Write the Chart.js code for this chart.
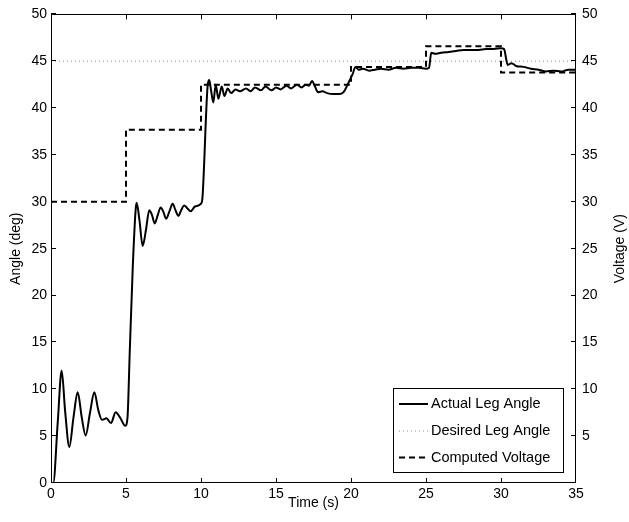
<!DOCTYPE html>
<html>
<head>
<meta charset="utf-8">
<script src="https://cdn.jsdelivr.net/npm/chart.js@4.4.1/dist/chart.umd.min.js"></script>
<style>
  html,body{margin:0;padding:0;background:#fff;}
  #c{display:block;}
</style>
</head>
<body>
<canvas id="c" width="629" height="522"></canvas>
<script>
// ---- data ----
const actualT = [0,0.15,0.45,0.71,0.95,1.22,1.5,1.78,2.05,2.31,2.6,2.89,3.15,3.4,3.7,4.0,4.31,4.6,4.95,
  5.1,5.25,5.45,5.65,5.71,5.9,6.11,6.33,6.55,6.73,6.91,7.1,7.31,7.5,7.67,7.9,8.11,8.3,8.49,8.68,8.87,9.1,9.31,9.6,10.0,
  10.1,10.45,10.55,10.68,10.82,10.98,11.16,11.38,11.56,11.78,12.0,12.3,12.6,13.0,13.3,13.6,14.0,14.3,14.7,15.0,15.3,15.7,16.0,16.4,16.7,17.0,17.2,17.4,17.6,17.8,18.1,18.4,18.8,19.2,19.5,
  19.8,20.1,20.3,20.5,20.8,21.2,21.6,22.0,22.5,23.0,23.5,24.0,24.5,25.0,25.2,25.35,25.6,26.0,26.5,27.0,27.5,28.0,28.5,29.0,29.5,30.0,30.2,
  30.45,30.7,31.0,31.5,32.0,32.5,33.0,33.5,34.0,34.5,35.0];
const actualV = [0,0,6.5,12.0,7.5,3.85,7.0,9.67,7.0,5.08,7.5,9.67,7.8,6.75,6.9,6.4,7.55,7.0,6.1,
  7.0,14.0,23.0,29.3,29.9,28.0,25.3,27.0,29.1,28.6,27.7,28.5,29.4,28.9,28.2,29.0,29.8,29.1,28.5,29.1,29.6,29.3,29.0,29.5,29.8,
  30.5,42.5,43.0,41.8,40.6,42.5,41.0,42.3,41.3,42.1,41.6,42.0,41.8,42.1,41.8,42.2,41.9,42.3,41.9,42.2,42.0,42.4,42.1,42.5,42.2,42.5,42.4,42.9,42.3,41.7,41.8,41.6,41.5,41.5,41.7,
  42.6,43.6,44.4,44.1,44.2,44.0,44.1,44.2,44.1,44.3,44.2,44.3,44.3,44.2,44.3,45.9,45.8,45.9,46.0,46.1,46.2,46.2,46.2,46.3,46.3,46.4,46.3,
  44.6,44.8,44.5,44.4,44.2,44.1,43.9,44.0,43.9,44.1,44.1];
const desiredT = [0, 35];
const desiredV = [45, 45];
const voltageT = [0, 5, 10, 20, 25, 30, 35];
const voltageV = [30, 37.7, 42.5, 44.4, 46.6, 43.8, 43.8];
const xTicks = [0,5,10,15,20,25,30,35];
const yTicks = [0,5,10,15,20,25,30,35,40,45,50];
const seriesLabels = ['Actual Leg Angle', 'Desired Leg Angle', 'Computed Voltage'];
const xTitle = 'Time (s)';
const yTitle = 'Angle (deg)';
const y2Title = 'Voltage (V)';

const pts = (t, v) => t.map((x, i) => ({x: x, y: v[i]}));
const FONT = 'Liberation Sans, Arial, Helvetica, sans-serif';

const boxAndTicks = {
  id: 'boxAndTicks',
  afterDatasetsDraw(chart) {
    const {ctx, chartArea: a, scales} = chart;
    ctx.save();
    ctx.strokeStyle = '#000';
    ctx.lineWidth = 1;
    ctx.setLineDash([]);
    ctx.strokeRect(Math.round(a.left) + 0.5, Math.round(a.top) + 0.5,
      Math.round(a.right - a.left) - 1, Math.round(a.bottom - a.top) - 1);
    const L = 5;
    ctx.beginPath();
    scales.x.ticks.forEach(t => {
      const px = Math.min(Math.round(scales.x.getPixelForValue(t.value)), Math.round(a.right) - 1) + 0.5;
      ctx.moveTo(px, a.bottom); ctx.lineTo(px, a.bottom - L);
      ctx.moveTo(px, a.top); ctx.lineTo(px, a.top + L);
    });
    scales.y.ticks.forEach(t => {
      const py = Math.round(scales.y.getPixelForValue(t.value)) - 0.5;
      ctx.moveTo(a.left, py); ctx.lineTo(a.left + L, py);
    });
    scales.y2.ticks.forEach(t => {
      const py = Math.round(scales.y2.getPixelForValue(t.value)) - 0.5;
      ctx.moveTo(a.right, py); ctx.lineTo(a.right - L, py);
    });
    ctx.stroke();
    // right axis title, reading bottom-to-top like the left one
    ctx.fillStyle = '#000';
    ctx.font = '14px ' + FONT;
    ctx.textAlign = 'center';
    ctx.textBaseline = 'middle';
    ctx.translate(620, (a.top + a.bottom) / 2);
    ctx.rotate(-Math.PI / 2);
    ctx.fillText(y2Title, 0, 0);
    ctx.restore();
  }
};

const boxLegend = {
  id: 'boxLegend',
  afterDraw(chart) {
    const {ctx} = chart;
    const bx = 393.5, by = 388.5, bw = 170, bh = 84;
    ctx.save();
    ctx.fillStyle = '#fff';
    ctx.fillRect(bx, by, bw, bh);
    ctx.strokeStyle = '#000';
    ctx.lineWidth = 1;
    ctx.setLineDash([]);
    ctx.strokeRect(bx, by, bw, bh);
    const rows = [404, 431, 457.5];
    chart.data.datasets.forEach((ds, i) => {
      const y = rows[i];
      ctx.beginPath();
      ctx.strokeStyle = ds.borderColor;
      ctx.lineWidth = ds.borderWidth;
      ctx.setLineDash(ds.borderDash || []);
      ctx.moveTo(399, y); ctx.lineTo(428, y);
      ctx.stroke();
      ctx.setLineDash([]);
      ctx.fillStyle = '#000';
      ctx.font = '14.5px ' + FONT;
      ctx.textBaseline = 'middle';
      ctx.textAlign = 'left';
      ctx.fillText(ds.label, 431, y);
    });
    ctx.restore();
  }
};

new Chart(document.getElementById('c'), {
  type: 'line',
  data: {
    datasets: [
      {label: seriesLabels[0], data: pts(actualT, actualV), borderColor: '#000', borderWidth: 2,
        pointRadius: 0, cubicInterpolationMode: 'monotone', yAxisID: 'y', order: 0},
      {label: seriesLabels[1], data: pts(desiredT, desiredV), borderColor: '#8c8c8c', borderWidth: 1,
        borderDash: [1, 3], pointRadius: 0, yAxisID: 'y', order: 2},
      {label: seriesLabels[2], data: pts(voltageT, voltageV), borderColor: '#000', borderWidth: 2,
        borderDash: [6, 4], pointRadius: 0, stepped: true, yAxisID: 'y2', order: 1}
    ]
  },
  options: {
    responsive: false,
    animation: false,
    layout: {padding: {top: 11, left: 0, right: 0, bottom: 0}},
    plugins: {legend: {display: false}, tooltip: {enabled: false}},
    scales: {
      x: {
        type: 'linear', min: 0, max: 35,
        afterBuildTicks: s => { s.ticks = xTicks.map(v => ({value: v})); },
        afterFit: s => { s.height = 39; },
        grid: {display: false, drawTicks: false}, border: {display: false},
        ticks: {color: '#000', padding: 3, font: {family: FONT, size: 14}, maxRotation: 0},
        title: {display: true, text: xTitle, color: '#000', font: {family: FONT, size: 14}, padding: {top: 0, bottom: 10}}
      },
      y: {
        type: 'linear', position: 'left', min: 0, max: 50,
        afterBuildTicks: s => { s.ticks = yTicks.map(v => ({value: v})); },
        afterFit: s => { s.width = 51; },
        grid: {display: false, drawTicks: false}, border: {display: false},
        ticks: {color: '#000', padding: 4, font: {family: FONT, size: 14}},
        title: {display: true, text: yTitle, color: '#000', font: {family: FONT, size: 14}, padding: {top: 8, bottom: 0}}
      },
      y2: {
        type: 'linear', position: 'right', min: 0, max: 50,
        afterBuildTicks: s => { s.ticks = yTicks.filter(v => v > 0).map(v => ({value: v})); },
        afterFit: s => { s.width = 53; },
        grid: {display: false, drawTicks: false}, border: {display: false},
        ticks: {color: '#000', padding: 6, font: {family: FONT, size: 14}},
        title: {display: false}
      }
    }
  },
  plugins: [boxAndTicks, boxLegend]
});
</script>
</body>
</html>
